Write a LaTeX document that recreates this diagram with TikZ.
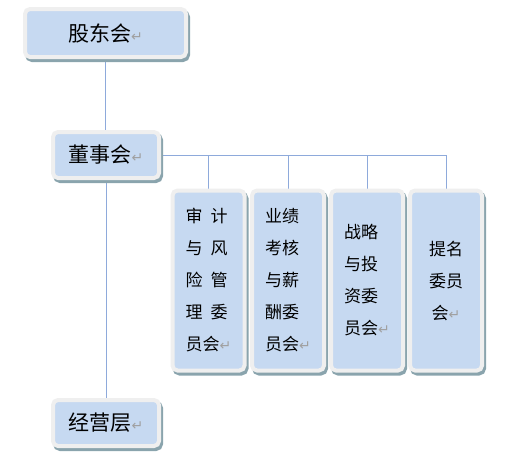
\documentclass[tikz,border=0pt]{standalone}
\usepackage{fontspec}
\setmainfont{Noto Sans CJK SC}
\newfontfamily\marksfont{DejaVu Sans}
\usetikzlibrary{shadows,backgrounds}
\definecolor{boxblue}{HTML}{C6D9F1}
\definecolor{boxrim}{HTML}{EFEFEF}
\definecolor{boxshade}{HTML}{8AA4AD}
\definecolor{linkblue}{HTML}{8EAADB}
\definecolor{markgray}{HTML}{A0A0A0}
\newcommand{\retmark}{{\marksfont\fontsize{14}{14}\selectfont\color{markgray}↵}}

\begin{document}
\begin{tikzpicture}[x=1pt, y=-1pt,
    orgbox/.style={fill=boxblue, draw=boxrim, line width=4pt, rounded corners=5pt, inner sep=0pt,
      drop shadow={shadow xshift=2pt, shadow yshift=-3pt, fill=boxshade, draw=boxshade, line width=4pt, opacity=1}},
    topbox/.style={orgbox, minimum width=161pt, minimum height=48pt, font=\fontsize{21}{21}\selectfont},
    midbox/.style={orgbox, minimum width=106pt, minimum height=46pt, font=\fontsize{21}{21}\selectfont},
    subbox/.style={orgbox, minimum width=72pt, minimum height=180pt, font=\fontsize{17}{32}\selectfont},
    link/.style={draw=linkblue, line width=0.8pt}]

    \useasboundingbox (0,0) rectangle (519,472);

    \node[topbox] (gdh) at (105.5,33) {股东会\retmark};
    \node[midbox] (dsh) at (106,155) {董事会\retmark};
    \node[midbox] (jyc) at (106,423) {经营层\retmark};

    \node[subbox, align=left] (sjw) at (208.5,280.5) {审\hspace{8pt}计\\与\hspace{8pt}风\\险\hspace{8pt}管\\理\hspace{8pt}委\\员会\retmark};
    \node[subbox, align=left] (yjx) at (288,280.5) {业绩\\考核\\与薪\\酬委\\员会\retmark};
    \node[subbox, align=left] (zlt) at (367,280.5) {战略\\与投\\资委\\员会\retmark};
    \node[subbox, align=center] (tmw) at (446,280.5) {提名\\委员\\会\retmark};

    \begin{scope}[on background layer]
        \draw[link] (gdh.south) -- (gdh.south |- dsh.north);
        \draw[link] (dsh.south) -- (dsh.south |- jyc.north);
        \draw[link] (dsh.east) -- (dsh.east -| tmw.north);
        \foreach \b in {sjw,yjx,zlt,tmw}
            \draw[link] (\b.north) -- (\b.north |- dsh.east);
    \end{scope}

\end{tikzpicture}
\end{document}
